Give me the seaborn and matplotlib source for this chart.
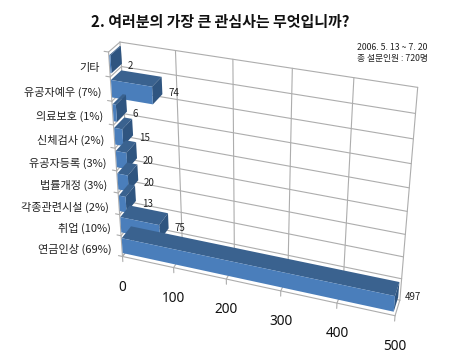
import matplotlib

matplotlib.use("Agg")

import matplotlib.pyplot as plt
import numpy as np
import seaborn as sns
from matplotlib.transforms import Transform

categories = ["연금인상 (69%)", "취업 (10%)", "각종관련시설 (2%)", "법률개정 (3%)", "유공자등록 (3%)",
              "신체검사 (2%)", "의료보호 (1%)", "유공자예우 (7%)", "기타"]
values = [497, 75, 13, 20, 20, 15, 6, 74, 2]
x_ticks = [0, 100, 200, 300, 400, 500]
title = "2. 여러분의 가장 큰 관심사는 무엇입니까?"
note_lines = ["2006. 5. 13 ~ 7. 20", "총 설문인원 : 720명"]

W, H = 450, 361
FRONT, TOP, SIDE = "#4a7ebb", "#3a628f", "#2f5580"
GRID = "#adadad"
Z0, Z1 = 0.04, 0.96
BAR_W = 0.72

# camera calibration: (value, category position, depth) -> reference pixel
CALIB = [
    ((0, 8.5, 0), (108, 52)), ((0, 7.5, 0), (110, 77)), ((0, -0.5, 0), (125, 257)),
    ((0, 1.5, 0), (120, 213)), ((0, 2.5, 0), (116, 192.7)), ((500, -0.5, 0), (394, 315)),
    ((300, -0.5, 0), (281.7, 293)), ((0, 8.5, 1), (121, 43)), ((500, 8.5, 1), (417.7, 86.7)),
    ((300, 8.5, 1), (292.7, 68.3)), ((500, -0.5, 1), (400, 299)), ((500, 0.5, 1), (401.7, 280)),
    ((0, -0.5, 1), (131, 243)),
]


def fit_camera(calib):
    rows, rhs = [], []
    for (x, y, z), (u, v) in calib:
        x = x / 100
        rows.append([x, y, z, 1, 0, 0, 0, 0, -u * x, -u * y, -u * z])
        rows.append([0, 0, 0, 0, x, y, z, 1, -v * x, -v * y, -v * z])
        rhs += [u, v]
    p = np.linalg.lstsq(np.array(rows, float), np.array(rhs, float), rcond=None)[0]
    return np.append(p, 1).reshape(3, 4)


CAM = fit_camera(CALIB)


class Persp(Transform):
    input_dims = output_dims = 2

    def __init__(self, z=0.0):
        super().__init__()
        self.z = z

    def transform_non_affine(self, values):
        xy = np.asarray(values, float).reshape(-1, 2)
        pts = np.column_stack([xy[:, 0] / 100, xy[:, 1], np.full(len(xy), self.z), np.ones(len(xy))])
        uvw = pts @ CAM.T
        return np.column_stack([uvw[:, 0] / uvw[:, 2], H - uvw[:, 1] / uvw[:, 2]])


def line3d(ax, a, b):
    # a, b are (value, position, depth)
    pa = Persp(a[2]).transform([a[:2]])[0]
    pb = Persp(b[2]).transform([b[:2]])[0]
    ax.plot([pa[0], pb[0]], [pa[1], pb[1]], transform=None, color=GRID, lw=0.8, clip_on=False, zorder=1)


def face(ax, corners, color, zorder):
    pts = np.vstack([Persp(z).transform([(x, y)]) for x, y, z in corners])
    ax.fill(pts[:, 0], pts[:, 1], transform=None, color=color, lw=0, clip_on=False, zorder=zorder)


sns.set_theme(style="white")
plt.rcParams["font.family"] = ["Noto Sans CJK KR", "DejaVu Sans"]

fig = plt.figure(figsize=(W / 100, H / 100), dpi=100)
ax = fig.add_axes([0, 0, 1, 1])

sns.barplot(x=values, y=categories, orient="h", width=BAR_W, color=FRONT, saturation=1, ax=ax)
front_bars = list(ax.patches)

y_lines = [i - 0.5 for i in range(len(categories) + 1)]
y_lo, y_hi = y_lines[0], y_lines[-1]

for x in x_ticks:
    line3d(ax, (x, y_lo, 1), (x, y_hi, 1))
    line3d(ax, (x, y_lo, 0), (x, y_lo, 1))
    line3d(ax, (x, y_lo, 0), (x, y_lo - 0.25, 0))
for y in y_lines:
    line3d(ax, (0, y, 1), (500, y, 1))
    line3d(ax, (0, y, 0), (0, y, 1))
    line3d(ax, (-8, y, 0), (0, y, 0))
line3d(ax, (0, y_lo, 0), (0, y_hi, 0))
line3d(ax, (0, y_lo, 0), (500, y_lo, 0))

for i, (bar, v) in enumerate(zip(front_bars, values)):
    z_order = 20 - i
    bar.set_transform(Persp(Z0))
    bar.set_clip_on(False)
    bar.set_linewidth(0)
    bar.set_zorder(z_order + 0.2)
    lo, hi = i - BAR_W / 2, i + BAR_W / 2
    face(ax, [(0, hi, Z0), (v, hi, Z0), (v, hi, Z1), (0, hi, Z1)], TOP, z_order)
    face(ax, [(v, lo, Z0), (v, hi, Z0), (v, hi, Z1), (v, lo, Z1)], SIDE, z_order + 0.1)
    label_dy = -5 if v > 50 else -8
    ax.annotate(str(v), xy=(v, i), xycoords=Persp(Z1), xytext=(4.5, label_dy), textcoords="offset points",
                ha="left", va="center", fontsize=7, color="#222222", annotation_clip=False, zorder=30)
    ax.annotate(categories[i], xy=(0, i), xycoords=Persp(0), xytext=(-7, -2.5), textcoords="offset points",
                ha="right", va="center", fontsize=8, color="#222222", annotation_clip=False, zorder=30)

for x in x_ticks:
    ax.annotate(str(x), xy=(x, y_lo), xycoords=Persp(0), xytext=(0, -22), textcoords="offset points",
                ha="center", va="center", fontsize=9.8, color="#111111", family="Noto Sans", annotation_clip=False)

ax.set_xlim(0, 500)
ax.axis("off")

fig.text(220.5 / W, 1 - 22 / H, title, ha="center", va="center", fontsize=10.8, fontweight="bold", color="#111111")
for line, py in zip(note_lines, [48, 58]):
    fig.text(357 / W, 1 - py / H, line, ha="left", va="center", fontsize=6.3, color="#222222")

fig.savefig("out.png", dpi=100, facecolor="white")
